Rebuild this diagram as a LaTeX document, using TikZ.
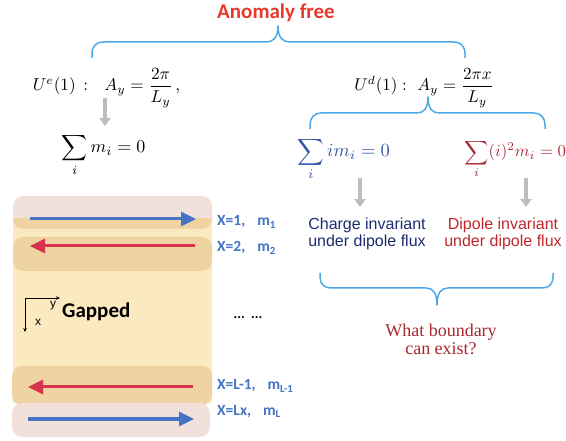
\documentclass[tikz,border=0pt]{standalone}
\usepackage{amsmath}
\usepackage{fontspec}
\usetikzlibrary{arrows.meta}
\newfontfamily\carl{Carlito}
\newfontfamily\libsans{Liberation Sans}
\newfontfamily\libserif{Liberation Serif}
\definecolor{afred}{HTML}{E8392B}
\definecolor{brblue}{HTML}{4DA9E6}
\definecolor{sumblue}{HTML}{2F55A4}
\definecolor{sumred}{HTML}{A82838}
\definecolor{navy}{HTML}{1C2B6E}
\definecolor{dipred}{HTML}{C0272D}
\definecolor{whatred}{HTML}{A8282B}
\definecolor{lblue}{HTML}{4472C4}
\definecolor{arrblue}{HTML}{4472C4}
\definecolor{arrred}{HTML}{D6334F}
\definecolor{bgyellow}{HTML}{FBE9BF}
\definecolor{bandtan}{HTML}{F0D3A3}
\definecolor{bandpink}{HTML}{F2E1DA}
\definecolor{arrgray}{HTML}{BDBDBD}
\begin{document}
\begin{tikzpicture}[x=1pt,y=-1pt,
  brace/.style={draw=brblue,line width=1.5pt,line join=round},
  grayarrow/.style={draw=arrgray,line width=4pt,-{Triangle[width=11pt,length=8pt]}},
  chainarrow/.style={line width=3pt,-{Triangle[width=14pt,length=15pt]}},
  mathtext/.style={inner sep=0pt},
  lbl/.style={inner sep=0pt,anchor=base west,text=lblue,font=\carl\bfseries\fontsize{15.5}{17}\selectfont},
  band/.style={rounded corners=10pt}
]
\useasboundingbox (0,0) rectangle (566,441);
% ---------- left panel ----------
\fill[bandpink,band] (13,196) rectangle (212,229);
\fill[bgyellow] (13,219) rectangle (212,403);
\begin{scope}
  \clip (13,219) rectangle (212,403);
  \fill[bandtan,band] (13,196) rectangle (212,229);
\end{scope}
\fill[bandtan,band] (13,237) rectangle (212,271);
\fill[bandtan,band] (12,366) rectangle (212,405);
\fill[bandpink,band] (12,403) rectangle (210,437);
\coordinate (a1s) at (30,219);  \coordinate (a1e) at (196,219);
\coordinate (a2s) at (195,246); \coordinate (a2e) at (30,246);
\coordinate (a3s) at (193,387); \coordinate (a3e) at (28,387);
\coordinate (a4s) at (28,419);  \coordinate (a4e) at (194,419);
\draw[chainarrow,arrblue] (a1s) -- (a1e);
\draw[chainarrow,arrred] (a2s) -- (a2e);
\draw[chainarrow,arrred] (a3s) -- (a3e);
\draw[chainarrow,arrblue] (a4s) -- (a4e);
\node[lbl] (l1) at (217,226) {X=1,\hspace{12pt}m\textsubscript{1}};
\node[lbl] (l2) at (217,252) {X=2,\hspace{12pt}m\textsubscript{2}};
\node[lbl] (l3) at (217,390) {X=L-1,\hspace{12pt}m\textsubscript{L-1}};
\node[lbl] (l4) at (217,415) {X=Lx,\hspace{12pt}m\textsubscript{L}};
% axes
\coordinate (ax0) at (25,298);
\coordinate (axy) at (60,298);
\coordinate (axx) at (25,332);
\draw[line width=0.8pt,-{Stealth[length=4pt,width=3.5pt]}] (ax0) -- (axy);
\draw[line width=0.8pt,-{Stealth[length=4pt,width=3.5pt]}] (ax0) -- (axx);
\node[inner sep=0pt,font=\libsans\fontsize{12}{13}\selectfont] (ly) at (53,306) {y};
\node[inner sep=0pt,font=\libsans\fontsize{12}{13}\selectfont] (lx) at (38,322) {x};
\node[inner sep=0pt,anchor=base west,font=\carl\bfseries\fontsize{21}{24}\selectfont] (gap) at (62,318) {Gapped};
\node[inner sep=0pt,font=\carl\bfseries\fontsize{14}{16}\selectfont] (dots) at (248,318) {...\ \ ...};
% ---------- top ----------
\node[inner sep=0pt,anchor=base,text=afred,font=\carl\bfseries\fontsize{21}{24}\selectfont] (anom) at (276,19) {Anomaly free};
\draw[brace] (92,58) -- (92,54) .. controls (92,46) and (96,42) .. (104,42) -- (266,42)
  .. controls (273,42) and (278,38) .. (278,26) .. controls (278,38) and (283,42) .. (290,42)
  -- (453,42) .. controls (461,42) and (465,46) .. (465,54) -- (465,58);
\node[mathtext,scale=1.72,anchor=base] (ue) at (106.5,91) {$U^e(1)\,:\ \ A_y=\dfrac{2\pi}{L_y}\,,$};
\node[mathtext,scale=1.7,anchor=base] (ud) at (424,91) {$U^d(1):\ A_y=\dfrac{2\pi x}{L_y}$};
\node[mathtext,scale=1.8,anchor=base] (s1) at (103.5,153) {$\displaystyle\sum_i m_i=0$};
\coordinate (g1s) at (105,98); \coordinate (g1e) at (105,126);
\draw[grayarrow] (g1s) -- (g1e);
\draw[brace] (310,129) -- (310,125) .. controls (310,118) and (314,113) .. (321,113) -- (417,113)
  .. controls (424,113) and (428,108) .. (428,97) .. controls (428,108) and (432,113) .. (439,113)
  -- (534,113) .. controls (541,113) and (545,118) .. (545,125) -- (545,129);
\node[mathtext,scale=1.85,anchor=base west,text=sumblue] (sb) at (297,157) {$\displaystyle\sum_i i m_i=0$};
\node[mathtext,scale=1.68,anchor=base west,text=sumred] (sr) at (464,157) {$\displaystyle\sum_i (i)^2 m_i=0$};
\coordinate (g2s) at (360,178); \coordinate (g2e) at (360,207);
\coordinate (g3s) at (526,178); \coordinate (g3e) at (526,207);
\draw[grayarrow] (g2s) -- (g2e);
\draw[grayarrow] (g3s) -- (g3e);
\node[inner sep=0pt,align=center,text=navy,font=\libsans\fontsize{16}{17}\selectfont] (ch) at (367,234) {Charge invariant\\under dipole flux};
\node[inner sep=0pt,align=center,text=dipred,font=\libsans\fontsize{16}{17}\selectfont] (dp) at (503,234) {Dipole invariant\\under dipole flux};
\draw[brace] (320,273) -- (320,277) .. controls (320,284) and (324,288) .. (331,288) -- (426,288)
  .. controls (433,288) and (437,293) .. (437,305) .. controls (437,293) and (441,288) .. (448,288)
  -- (542,288) .. controls (549,288) and (553,284) .. (553,277) -- (553,273);
\node[inner sep=0pt,align=center,text=whatred,font=\libserif\fontsize{18}{18}\selectfont] (wb) at (441,339) {What boundary\\can exist?};
\end{tikzpicture}
\end{document}
